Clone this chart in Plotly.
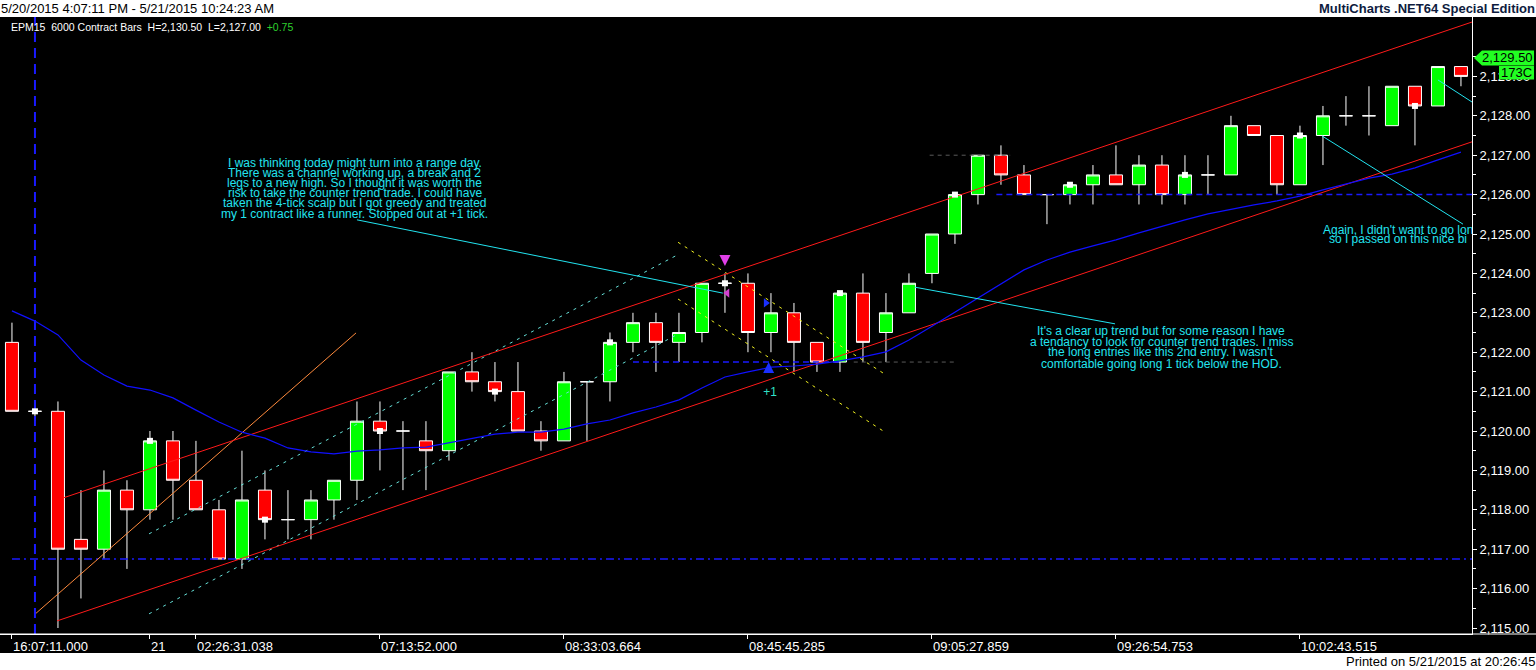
import plotly.graph_objects as go

# ---------------- data ----------------
bar_index = list(range(64))
opens = [2122.25, 2120.5, 2120.5, 2117.25, 2117.0, 2118.5, 2118.0, 2119.75, 2118.75, 2118.0,
         2116.75, 2118.5, 2117.75, 2117.75, 2118.25, 2118.75, 2120.25, 2120.0, 2119.75, 2119.5,
         2121.5, 2121.25, 2121.0, 2120.0, 2119.75, 2121.25, 2121.25, 2122.25, 2122.75, 2122.25,
         2122.5, 2123.75, 2123.75, 2122.5, 2123.0, 2122.25, 2121.75, 2123.5, 2122.5, 2123.0,
         2124.0, 2125.0, 2126.0, 2127.0, 2126.5, 2126.0, 2126.0, 2126.25, 2126.5, 2126.25,
         2126.75, 2126.0, 2126.5, 2126.5, 2127.75, 2127.5, 2126.25, 2127.5, 2128.0, 2128.0,
         2127.75, 2128.75, 2128.25, 2129.25]
highs = [2122.75, 2120.75, 2120.75, 2118.5, 2119.0, 2118.75, 2120.0, 2120.0, 2119.75, 2118.25,
         2119.5, 2119.0, 2118.5, 2118.5, 2118.75, 2120.75, 2120.75, 2120.25, 2120.25, 2121.5,
         2122.0, 2121.75, 2121.75, 2120.25, 2121.5, 2121.25, 2122.5, 2123.0, 2123.0, 2123.0,
         2123.75, 2124.0, 2124.0, 2123.5, 2123.25, 2122.25, 2123.5, 2124.0, 2123.5, 2124.0,
         2125.0, 2126.0, 2127.0, 2127.25, 2126.75, 2126.0, 2126.25, 2126.75, 2127.25, 2127.0,
         2127.0, 2127.0, 2127.0, 2128.0, 2127.75, 2127.5, 2127.75, 2128.25, 2128.5, 2128.75,
         2128.75, 2128.75, 2129.25, 2129.25]
lows = [2120.5, 2120.25, 2115.0, 2115.75, 2116.75, 2116.5, 2117.75, 2117.75, 2118.0, 2116.75,
        2116.5, 2117.25, 2117.25, 2117.25, 2117.75, 2118.25, 2119.0, 2118.5, 2118.5, 2119.25,
        2121.0, 2120.75, 2120.0, 2119.5, 2119.75, 2119.75, 2120.75, 2122.0, 2121.5, 2121.75,
        2122.25, 2123.0, 2122.0, 2122.0, 2121.5, 2121.5, 2121.5, 2121.75, 2121.75, 2123.0,
        2123.75, 2124.75, 2125.75, 2126.25, 2126.0, 2125.25, 2125.75, 2125.75, 2126.25, 2125.75,
        2125.75, 2125.75, 2126.0, 2126.5, 2127.5, 2126.0, 2126.25, 2126.75, 2127.75, 2127.5,
        2127.75, 2127.25, 2128.25, 2128.75]
closes = [2120.5, 2120.5, 2117.0, 2117.0, 2118.5, 2118.0, 2119.75, 2118.75, 2118.0, 2116.75,
          2118.25, 2117.75, 2117.75, 2118.25, 2118.75, 2120.25, 2120.0, 2120.0, 2119.5, 2121.5,
          2121.25, 2121.0, 2120.0, 2119.75, 2121.25, 2121.25, 2122.25, 2122.75, 2122.25, 2122.5,
          2123.75, 2123.75, 2122.5, 2123.0, 2122.25, 2121.75, 2123.5, 2122.25, 2123.0, 2123.75,
          2125.0, 2126.0, 2127.0, 2126.5, 2126.0, 2126.0, 2126.25, 2126.5, 2126.25, 2126.75,
          2126.0, 2126.5, 2126.5, 2127.75, 2127.5, 2126.25, 2127.5, 2128.0, 2128.0, 2128.0,
          2128.75, 2128.25, 2129.25, 2129.0]
ma_values = [2123.05, 2122.79, 2122.44, 2121.80, 2121.42, 2121.14, 2121.04, 2120.84, 2120.53, 2120.23,
             2119.97, 2119.82, 2119.57, 2119.47, 2119.42, 2119.49, 2119.52, 2119.57, 2119.59, 2119.70,
             2119.82, 2119.92, 2119.97, 2119.97, 2120.05, 2120.18, 2120.28, 2120.46, 2120.61, 2120.79,
             2121.09, 2121.37, 2121.50, 2121.62, 2121.65, 2121.70, 2121.78, 2121.88, 2122.01, 2122.31,
             2122.66, 2123.02, 2123.38, 2123.73, 2124.09, 2124.34, 2124.54, 2124.70, 2124.85, 2125.03,
             2125.20, 2125.36, 2125.51, 2125.63, 2125.74, 2125.84, 2125.96, 2126.12, 2126.27, 2126.42,
             2126.52, 2126.68, 2126.88, 2127.08]

x_tick_bars = [0, 6, 8, 16, 24, 32, 40, 48, 56]
x_tick_labels = ["16:07:11.000", "21", "02:26:31.038", "07:13:52.000", "08:33:03.664",
                 "08:45:45.285", "09:05:27.859", "09:26:54.753", "10:02:43.515"]
y_tick_prices = [2115, 2116, 2117, 2118, 2119, 2120, 2121, 2122, 2123, 2124, 2125, 2126, 2127, 2128, 2129]
y_minor_prices = [2115.5, 2116.5, 2117.5, 2118.5, 2119.5, 2120.5, 2121.5, 2122.5, 2123.5,
                  2124.5, 2125.5, 2126.5, 2127.5, 2128.5, 2129.5]
marker_bars = [1, 6, 11, 16, 21, 26, 31, 36, 41, 46, 51, 56, 61]

# drawn objects: (bar, price) endpoints
channel_upper = [(2.22, 2118.30), (63.48, 2130.38)]
channel_lower = [(1.96, 2115.18), (63.48, 2127.34)]
orange_line = [(0.96, 2115.33), (14.96, 2122.49)]
cyan_dot_upper = [(5.96, 2117.39), (29.0, 2124.49)]
cyan_dot_lower = [(5.96, 2115.36), (28.96, 2122.46)]
yellow_upper = [(28.96, 2124.79), (37.96, 2121.44)]
yellow_lower = [(28.96, 2123.35), (37.96, 2119.97)]
leader1 = [(15.0, 2125.36), (30.91, 2123.50)]
leader2 = [(39.26, 2123.65), (47.96, 2122.72)]
leader3 = [(56.96, 2127.49), (63.09, 2125.25)]
leader4 = [(62.0, 2128.91), (63.48, 2128.35)]
support_line = [(0.0, 2116.75), (63.48, 2116.75)]
hod_line = [(42.8, 2126.0), (63.48, 2126.0)]
entry_line = [(27.0, 2121.75), (36.0, 2121.75)]
gray_line1 = [(36.6, 2121.75), (41.0, 2121.75)]
gray_line2 = [(39.9, 2127.0), (43.4, 2127.0)]
session_break_bar = 1

short_arrow = (31.0, 2124.19)
short_entry = (31.1, 2123.5)
cover_exit = (32.78, 2123.25)
cover_arrow = (32.9, 2121.75)
profit_label = (32.96, 2120.96, "+1")

note1_pos = (14.91, 2126.80)
note1_lines = ["I was thinking today might turn into a range day.",
               "There was a channel working up, a break and 2",
               "legs to a new high. So I thought it was worth the",
               "risk to take the counter trend trade. I could have",
               "taken the 4-tick scalp but I got greedy and treated",
               "my 1 contract like a runner. Stopped out at +1 tick."]
note2_pos = (49.96, 2122.54)
note2_lines = ["It's a clear up trend but for some reason I have",
               "a tendancy to look for counter trend trades. I miss",
               "the long entries like this 2nd entry. I wasn't",
               "comfortable going long 1 tick below the HOD."]
note3_x = [57.0, 57.26]
note3_y = [2125.08, 2124.85]
note3_lines = ["Again, I didn't want to go lon", "so I passed on this nice bi"]

header_left = "5/20/2015 4:07:11 PM - 5/21/2015 10:24:23 AM"
header_right = "MultiCharts .NET64 Special Edition"
symbol_info = "EPM15\u00a0\u00a06000 Contract Bars\u00a0\u00a0H=2,130.50\u00a0\u00a0L=2,127.00\u00a0\u00a0"
symbol_change = "+0.75"
last_price_text = "2,129.50"
bar_count_text = "173C"
printed_text = "Printed on 5/21/2015 at 20:26:45"

# ---------------- layout constants ----------------
W, H = 1536, 670
PLOT_W, PLOT_H, TOP = 1472, 617, 17
X_RANGE = [-0.52, 63.48]
Y_RANGE = [2114.848, 2130.508]
CYAN = "#22e4f0"
FONT = "Liberation Sans, Arial, sans-serif"


def pxx(px):
    return px / PLOT_W


def pxy(py):
    return (TOP + PLOT_H - py) / PLOT_H


fig = go.Figure()


def seg(pts, color, width=1, dash="solid"):
    fig.add_trace(go.Scatter(x=[p[0] for p in pts], y=[p[1] for p in pts], mode="lines",
                             line=dict(color=color, width=width, dash=dash),
                             hoverinfo="skip", showlegend=False))


# background drawings
seg(support_line, "#1a1aff", 1.5, "8px,4px,2px,4px")
seg(hod_line, "#1a1aff", 1.5, "6px,4px")
seg(entry_line, "#1a1aff", 1.5, "6px,4px")
seg(gray_line1, "#5a5a5a", 1, "4px,4px")
seg(gray_line2, "#5a5a5a", 1, "4px,4px")
seg(cyan_dot_upper, "#66e0d8", 1, "3px,5px")
seg(cyan_dot_lower, "#66e0d8", 1, "3px,5px")
seg(yellow_upper, "#f0f020", 1, "3px,5px")
seg(yellow_lower, "#f0f020", 1, "3px,5px")
seg(orange_line, "#ff8a3c", 1)
seg(channel_upper, "#ff1a1a", 1)
seg(channel_lower, "#ff1a1a", 1)

# vertical session break
fig.add_trace(go.Scatter(x=[session_break_bar, session_break_bar], y=Y_RANGE, mode="lines",
                         line=dict(color="#1a1aff", width=2, dash="10px,6px"),
                         hoverinfo="skip", showlegend=False))

# moving average
fig.add_trace(go.Scatter(x=bar_index, y=ma_values, mode="lines",
                         line=dict(color="#1010ff", width=1.2), hoverinfo="skip", showlegend=False))

# leaders
seg(leader1, CYAN, 1)
seg(leader2, CYAN, 1)
seg(leader3, CYAN, 1)
seg(leader4, CYAN, 1)

# candles
fig.add_trace(go.Candlestick(
    x=bar_index, open=opens, high=highs, low=lows, close=closes,
    increasing=dict(line=dict(color="white", width=1), fillcolor="#00ff00"),
    decreasing=dict(line=dict(color="white", width=1), fillcolor="#ff0000"),
    whiskerwidth=0, hoverinfo="skip", showlegend=False))

# periodic white markers at close
fig.add_trace(go.Scatter(x=marker_bars, y=[closes[i] for i in marker_bars], mode="markers",
                         marker=dict(symbol="square", size=6, color="white", line=dict(width=0)),
                         hoverinfo="skip", showlegend=False))

# trade markers
fig.add_trace(go.Scatter(x=[short_arrow[0]], y=[short_arrow[1]], mode="markers",
                         marker=dict(symbol="arrow-down", size=11, color="#e040e8", line=dict(width=0)),
                         hoverinfo="skip", showlegend=False))
fig.add_trace(go.Scatter(x=[short_entry[0]], y=[short_entry[1]], mode="markers",
                         marker=dict(symbol="triangle-left", size=8, color="#d040d0", line=dict(width=0)),
                         hoverinfo="skip", showlegend=False))
fig.add_trace(go.Scatter(x=[cover_exit[0]], y=[cover_exit[1]], mode="markers",
                         marker=dict(symbol="triangle-right", size=8, color="#1a30ff", line=dict(width=0)),
                         hoverinfo="skip", showlegend=False))
fig.add_trace(go.Scatter(x=[cover_arrow[0]], y=[cover_arrow[1]], mode="markers",
                         marker=dict(symbol="arrow-up", size=11, color="#1a30ff", line=dict(width=0)),
                         hoverinfo="skip", showlegend=False))
fig.add_trace(go.Scatter(x=[profit_label[0]], y=[profit_label[1]], mode="text", text=[profit_label[2]],
                         textfont=dict(family=FONT, size=12, color="#30e0c8"),
                         hoverinfo="skip", showlegend=False))

# third note (clipped at the axis)
fig.add_trace(go.Scatter(x=note3_x, y=note3_y, mode="text", text=note3_lines,
                         textposition="middle right", cliponaxis=True,
                         textfont=dict(family=FONT, size=12, color=CYAN),
                         hoverinfo="skip", showlegend=False))

annotations = []
note1_offsets = [0, 10, 20, 30, 40, 51]
for k, line in enumerate(note1_lines):
    annotations.append(dict(x=note1_pos[0], y=note1_pos[1], xref="x", yref="y", text=line,
                            showarrow=False, xanchor="center", yanchor="middle",
                            yshift=-note1_offsets[k], font=dict(family=FONT, size=12, color=CYAN)))
note2_offsets = [0, 11, 21, 33]
for k, line in enumerate(note2_lines):
    annotations.append(dict(x=note2_pos[0], y=note2_pos[1], xref="x", yref="y", text=line,
                            showarrow=False, xanchor="center", yanchor="middle",
                            yshift=-note2_offsets[k], font=dict(family=FONT, size=12, color=CYAN)))

# header / footer texts
annotations += [
    dict(x=pxx(-1), y=pxy(8.5), xref="paper", yref="paper", text=header_left, showarrow=False,
         xanchor="left", yanchor="middle", font=dict(family=FONT, size=13, color="black")),
    dict(x=pxx(1537), y=pxy(8.5), xref="paper", yref="paper", text="<b>" + header_right + "</b>",
         showarrow=False, xanchor="right", yanchor="middle", font=dict(family=FONT, size=13, color="#0d1b3e")),
    dict(x=pxx(9), y=pxy(27), xref="paper", yref="paper",
         text=symbol_info + "<span style='color:#2ed02e'>" + symbol_change + "</span>",
         showarrow=False, xanchor="left", yanchor="middle", font=dict(family=FONT, size=10.5, color="white")),
    dict(x=pxx(1537), y=pxy(661.5), xref="paper", yref="paper", text=printed_text, showarrow=False,
         xanchor="right", yanchor="middle", font=dict(family=FONT, size=13, color="black")),
    dict(x=pxx(1507.5), y=pxy(58), xref="paper", yref="paper", text=last_price_text, showarrow=False,
         xanchor="center", yanchor="middle", font=dict(family=FONT, size=13, color="black")),
    dict(x=pxx(1516.5), y=pxy(72.5), xref="paper", yref="paper", text=bar_count_text, showarrow=False,
         xanchor="center", yanchor="middle", font=dict(family=FONT, size=13, color="black")),
]

shapes = [
    dict(type="rect", xref="paper", yref="paper", x0=pxx(-5), x1=pxx(1545), y0=pxy(17), y1=pxy(-5),
         fillcolor="white", line=dict(width=0), layer="above"),
    dict(type="rect", xref="paper", yref="paper", x0=pxx(-5), x1=pxx(1545), y0=pxy(675), y1=pxy(653),
         fillcolor="white", line=dict(width=0), layer="above"),
    dict(type="line", xref="paper", yref="paper", x0=0, x1=pxx(1536), y0=0, y1=0,
         line=dict(color="white", width=1), layer="above"),
    dict(type="path", xref="paper", yref="paper",
         path="M %f,%f L %f,%f L %f,%f L %f,%f L %f,%f Z" % (
             pxx(1474), pxy(58), pxx(1482), pxy(50.5), pxx(1534), pxy(50.5),
             pxx(1534), pxy(65.5), pxx(1482), pxy(65.5)),
         fillcolor="#22ff22", line=dict(width=0), layer="above"),
    dict(type="rect", xref="paper", yref="paper", x0=pxx(1499), x1=pxx(1534), y0=pxy(79.5), y1=pxy(66),
         fillcolor="#22ff22", line=dict(width=0), layer="above"),
]

fig.update_layout(
    width=W, height=H,
    margin=dict(l=0, r=W - PLOT_W, t=TOP, b=H - TOP - PLOT_H, pad=0),
    paper_bgcolor="black", plot_bgcolor="black", showlegend=False,
    boxgap=0.435, boxgroupgap=0,
    xaxis=dict(range=X_RANGE, rangeslider=dict(visible=False), showgrid=False, zeroline=False,
               tickmode="array", tickvals=x_tick_bars, ticktext=x_tick_labels, tickangle=0,
               ticks="outside", ticklen=4, tickcolor="white", ticklabelposition="outside right",
               tickfont=dict(family=FONT, size=13, color="white"),
               showline=True, linecolor="white", linewidth=1, automargin=False, fixedrange=True),
    yaxis=dict(side="right", range=Y_RANGE, tickmode="array", tickvals=y_tick_prices,
               tickformat=",.2f",
               ticks="outside", ticklen=4, tickcolor="white", showgrid=False, zeroline=False,
               tickfont=dict(family=FONT, size=13, color="white"),
               showline=True, linecolor="white", linewidth=1, automargin=False,
               minor=dict(tickmode="array", tickvals=y_minor_prices, ticks="outside", ticklen=3,
                          tickcolor="white", showgrid=False)),
    annotations=annotations, shapes=shapes,
)

fig.write_html("out.html", config={"displayModeBar": False},
               post_script="document.body.style.margin='0';document.body.style.overflow='hidden';")
